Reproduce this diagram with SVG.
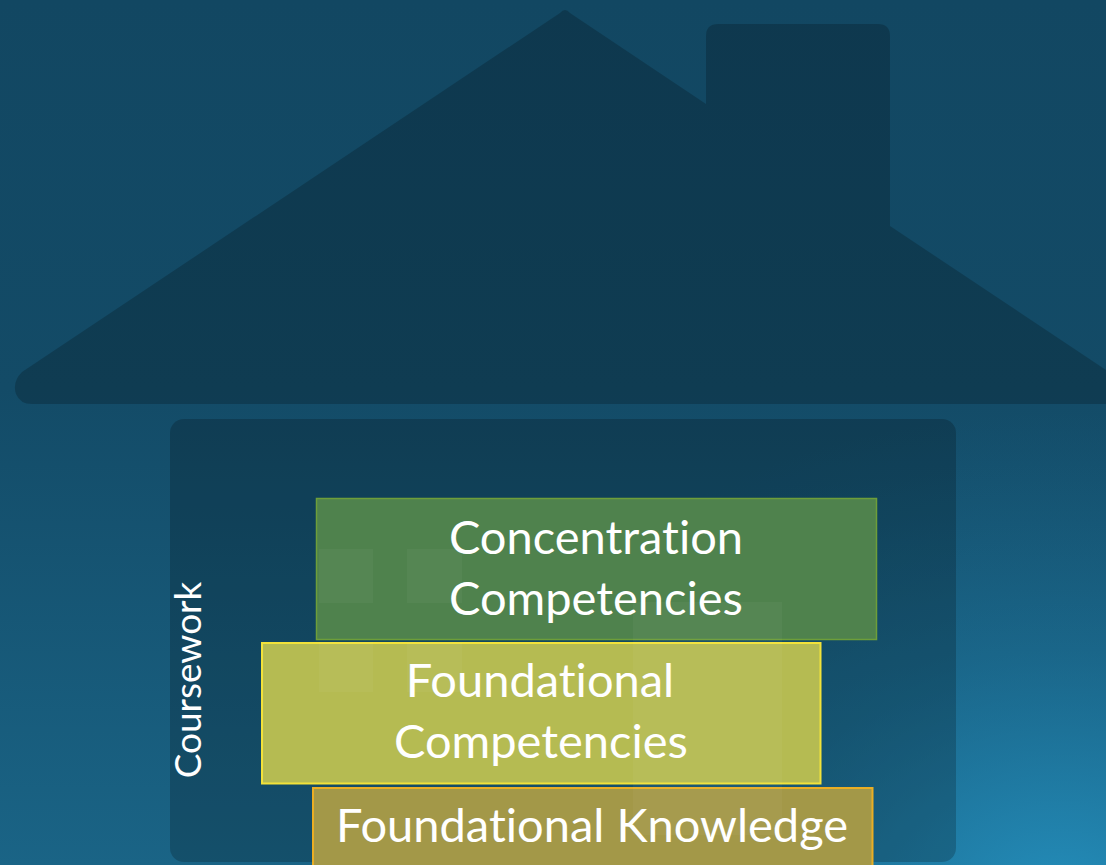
<svg xmlns="http://www.w3.org/2000/svg" width="1106" height="865" viewBox="0 0 1106 865">
<defs>
<linearGradient id="bg" x1="0" y1="0" x2="0" y2="865" gradientUnits="userSpaceOnUse">
<stop offset="0" stop-color="#124762"/>
<stop offset="0.45" stop-color="#134b67"/>
<stop offset="1" stop-color="#1a6486"/>
</linearGradient>
<radialGradient id="glow" cx="1060" cy="900" r="650" gradientUnits="userSpaceOnUse" gradientTransform="translate(1060,900) scale(1,0.75) translate(-1060,-900)">
<stop offset="0" stop-color="#2592c0" stop-opacity="0.9"/>
<stop offset="0.5" stop-color="#2080ab" stop-opacity="0.35"/>
<stop offset="1" stop-color="#1a6a90" stop-opacity="0"/>
</radialGradient>
<style>
.shade{fill:#000;fill-opacity:0.2}
.win{fill:#fff;fill-opacity:0.035}
.lbl{font-family:Lato,"Open Sans",sans-serif;font-size:47px;fill:#fff;text-anchor:middle;font-variant-ligatures:none}
</style>
</defs>
<rect width="1106" height="865" fill="url(#bg)"/>
<rect width="1106" height="865" fill="url(#glow)"/>
<g id="house">
<path class="shade" d="M560,13 Q565,7 570,13 L706,104 L706,36 Q706,24 718,24 L878,24 Q890,24 890,36 L890,226 L1106,370 L1106,404 L32,404 Q20,404 16,394 Q12,382 22,372 Z"/>
<rect class="shade" x="170" y="419" width="786" height="443" rx="14"/>
</g>
<g id="concentration">
<rect x="316.5" y="498.5" width="560" height="141" fill="#4f824d" stroke="#6e9e3a" stroke-width="1.5"/>
</g>
<g id="foundational-competencies">
<rect x="262" y="643" width="558.5" height="140.5" fill="#b5bb52" stroke="#f2e23a" stroke-width="2"/>
</g>
<g id="foundational-knowledge">
<rect x="313" y="788" width="559.5" height="80" fill="#a39848" stroke="#eaae24" stroke-width="2"/>
</g>
<g id="windows">
<rect class="win" x="319" y="549" width="54" height="54"/>
<rect class="win" x="407" y="549" width="55" height="54"/>
<rect class="win" x="319" y="642" width="54" height="50"/>
<rect class="win" x="407" y="643" width="55" height="49"/>
<rect class="win" x="633" y="602" width="149" height="233"/>
</g>
<g id="labels">
<text class="lbl" x="596" y="554">Concentration</text>
<text class="lbl" x="596" y="615">Competencies</text>
<text class="lbl" x="540" y="697">Foundational</text>
<text class="lbl" x="541" y="758">Competencies</text>
<text class="lbl" x="592" y="842">Foundational Knowledge</text>
<text id="coursework" font-family="Lato,'Open Sans',sans-serif" font-size="37" fill="#fff" text-anchor="middle" transform="translate(201,680) rotate(-90)">Coursework</text>
</g>
<g id="connectors"/>
</svg>
